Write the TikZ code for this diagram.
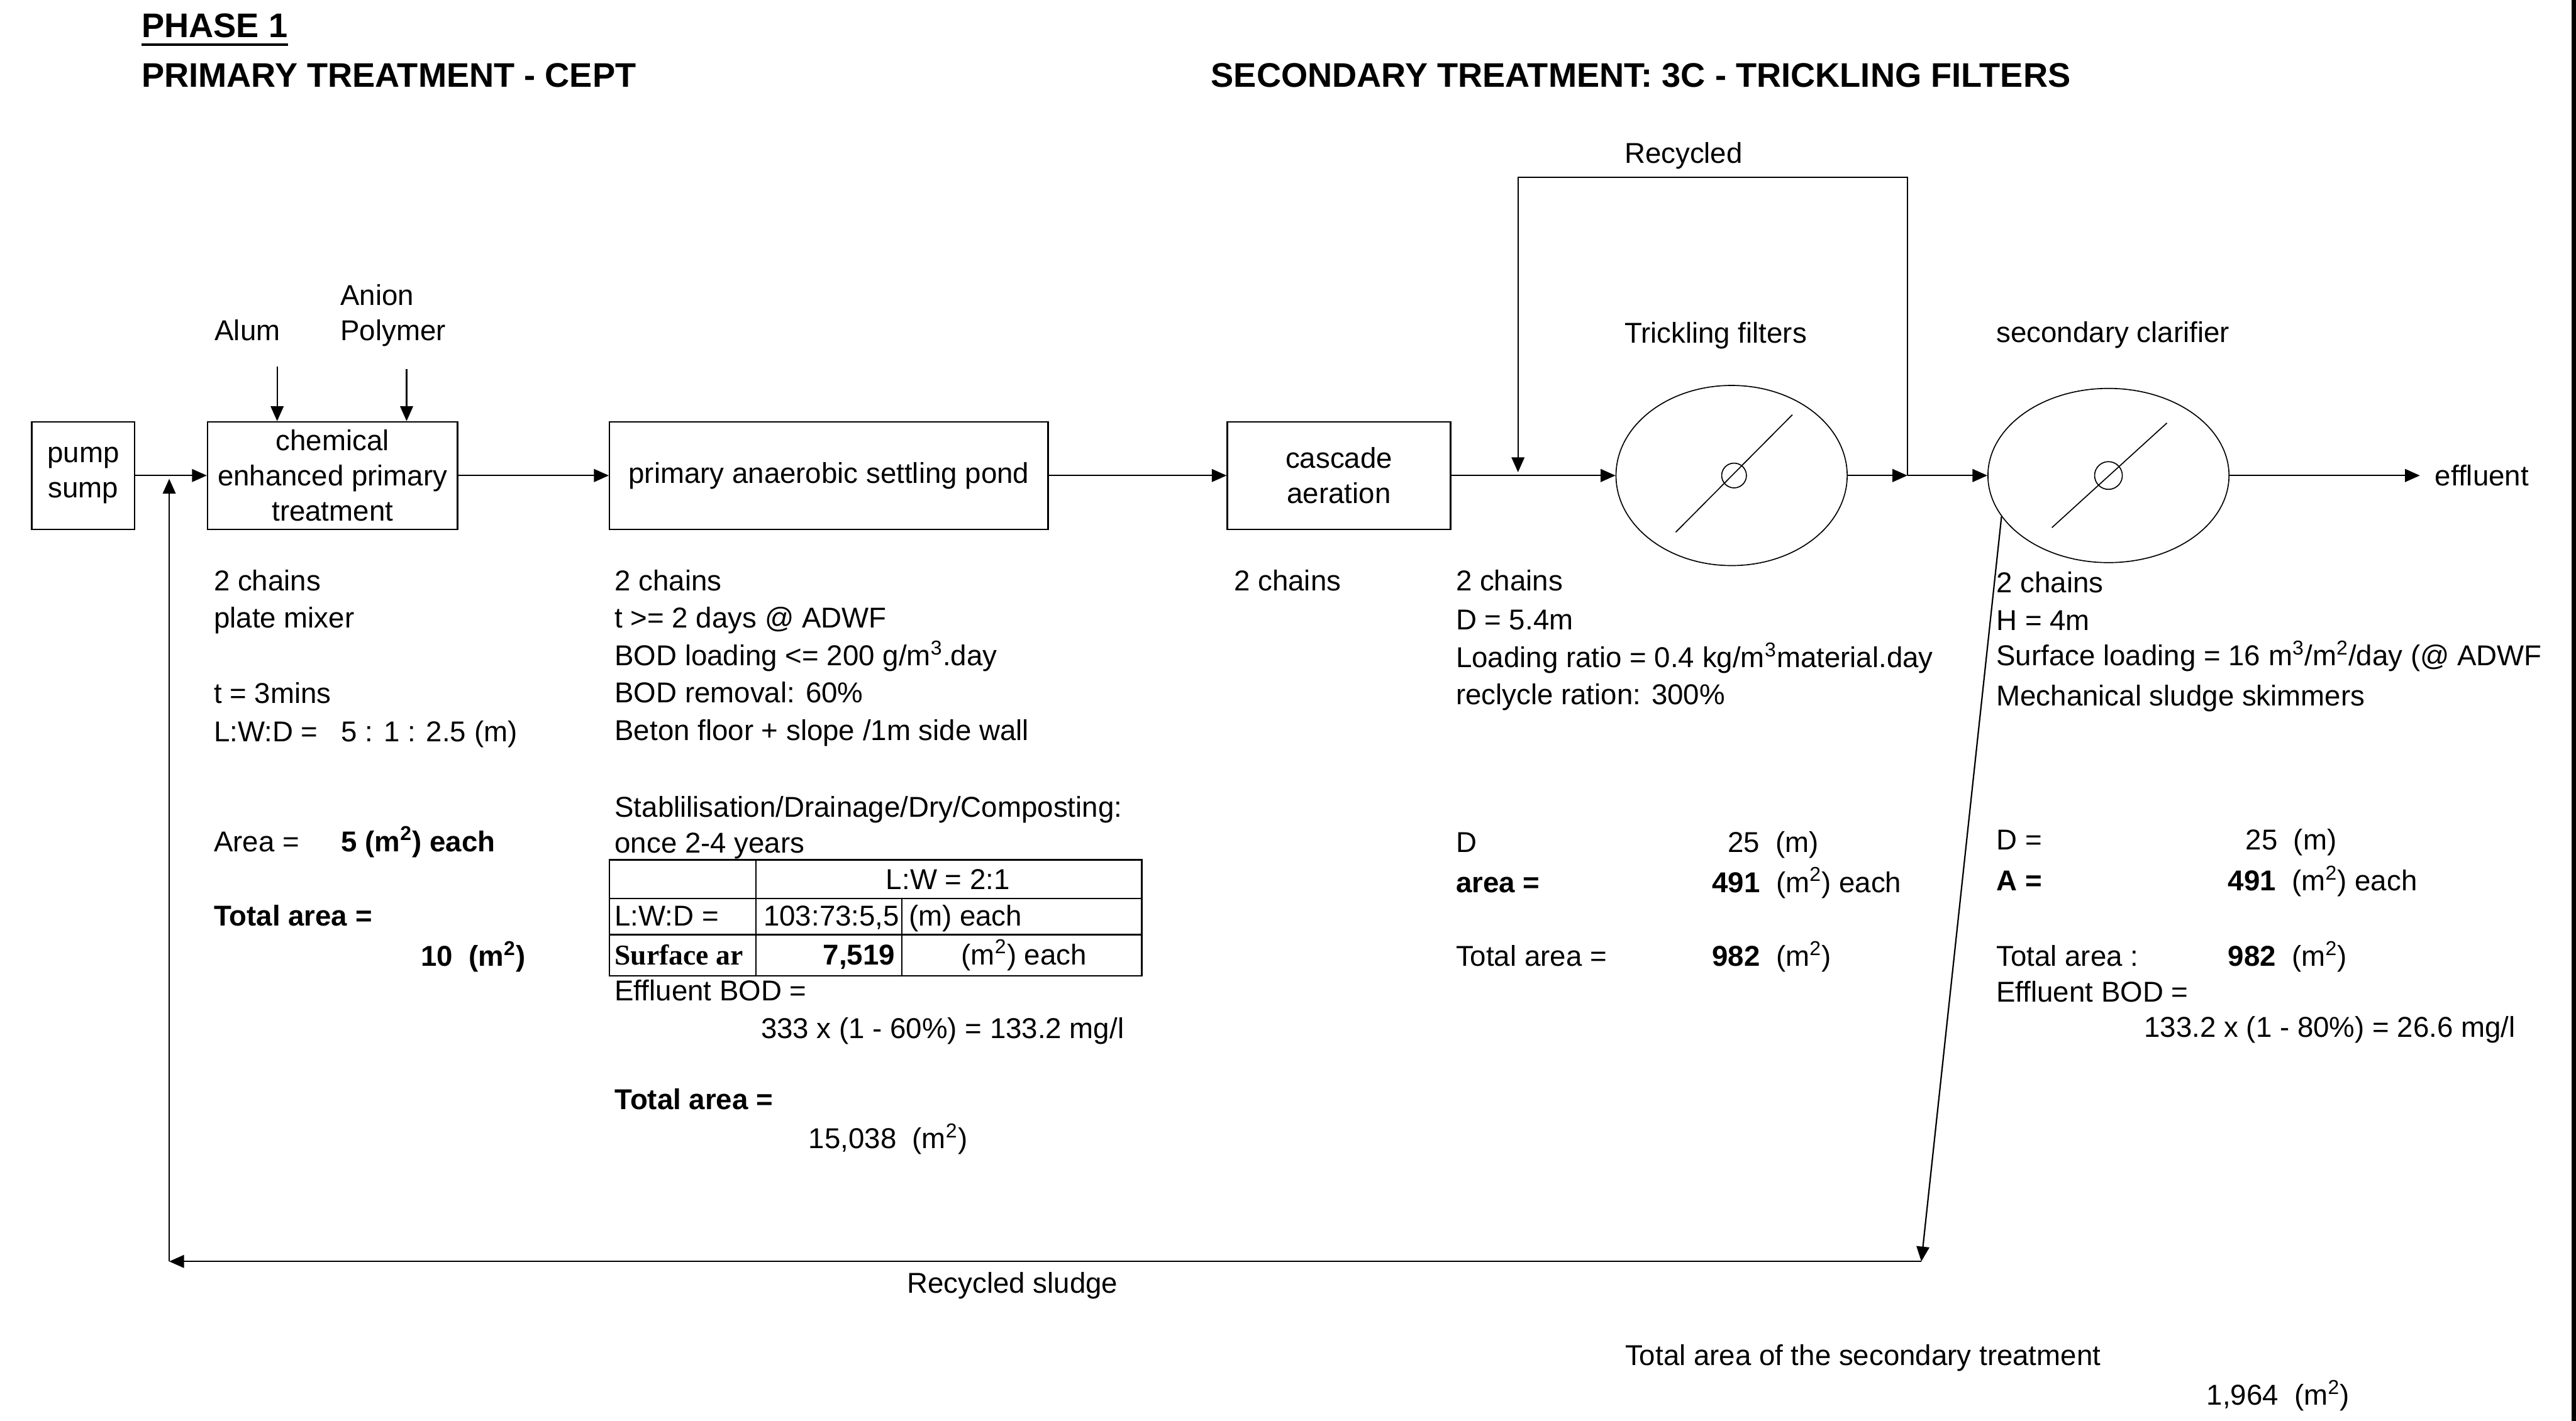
\documentclass[tikz,border=0pt]{standalone}
\usepackage{fontspec}
\setmainfont{Liberation Sans}
\newfontfamily\cellserif{Liberation Serif}
\usetikzlibrary{arrows.meta,shapes.geometric}

\tikzset{
  >={Triangle[length=0.3cm,width=0.26cm]},
  stage/.style={draw,line width=0.8pt,inner sep=0pt,align=center,minimum height=2.17cm,font=\fontsize{16.5}{20.2}\selectfont},
  tank/.style={draw,ellipse,line width=0.6pt,inner sep=0pt},
  note/.style={anchor=west,inner sep=0pt,text height=0.5cm,text depth=0.08cm},
  head/.style={anchor=base west,inner sep=0pt,font=\fontsize{19.6}{24}\selectfont\bfseries},
  flow/.style={->,line width=0.8pt},
}

\begin{document}
\begin{tikzpicture}[x=0.03319cm,y=-0.03319cm,every node/.style={font=\fontsize{16.5}{21.5}\selectfont}]
\useasboundingbox (0,0) rectangle (1568,865);
\fill (1565.3,0) rectangle (1568,865);

% titles
\node[head] (phase) at (86,22.8) {PHASE 1};
\draw[line width=1.4pt] ([yshift=-0.145cm]phase.base west) -- ([yshift=-0.145cm]phase.base east);
\node[head] (ptitle) at (86,53) {PRIMARY TREATMENT - CEPT};
\node[head] (stitle) at (737,53) {SECONDARY TREATMENT: 3C - TRICKLING FILTERS};

% process units
\node[stage,minimum width=2.08cm] (sump) at (50.7,289.5) {pump\\sump};
\node[stage,minimum width=5.05cm] (cept) at (202.4,289.5) {chemical\\enhanced primary\\treatment};
\node[stage,minimum width=8.86cm] (pond) at (504.5,289.5) {primary anaerobic settling pond};
\node[stage,minimum width=4.51cm] (casc) at (815,289.5) {cascade\\aeration};
\node[tank,minimum width=4.67cm,minimum height=3.64cm] (tf) at (1054,289.5) {};
\node[tank,minimum width=4.87cm,minimum height=3.52cm] (clar) at (1283.4,289.5) {};
\draw[line width=0.6pt] ([shift={(1.5,0)}]tf.center) circle[radius=0.25cm];
\draw[line width=0.6pt] ([shift={(-34,34.5)}]tf.center) -- ([shift={(37,-37)}]tf.center);
\draw[line width=0.6pt] (clar.center) circle[radius=0.28cm];
\draw[line width=0.6pt] ([shift={(-34.4,31.7)}]clar.center) -- ([shift={(35.6,-32)}]clar.center);

% dosing
\node[note] (alum) at (130.5,201) {Alum};
\node[note] (anion) at (207,179.7) {Anion};
\node[note] (polymer) at (207,201) {Polymer};
\coordinate (alumin) at (168.7,223);
\coordinate (polyin) at (247.5,224.7);
\draw[flow] (alumin) -- (alumin |- cept.north);
\draw[flow] (polyin) -- (polyin |- cept.north);

% main flow
\draw[flow] (sump) -- (cept);
\draw[flow] (cept) -- (pond);
\draw[flow] (pond) -- (casc);
\draw[flow] (casc) -- (tf);
\coordinate (jn) at (1161,289.5);
\draw[flow] (tf.east) -- (jn);
\draw[flow] (jn) -- (clar.west);
\node[note] (eff) at (1482,289.5) {effluent};
\draw[flow] (clar.east) -- ([xshift=-0.3cm]eff.west);

% recycle over the filters
\coordinate (rtr) at (1161,108);
\coordinate (rtl) at (924,108);
\coordinate (rin) at (924,287.5);
\draw[flow] (jn) -- (rtr) -- (rtl) -- (rin);
\node[note] (recyc) at (988.6,93) {Recycled};

% sludge return
\coordinate (slc) at (1169.5,768);
\coordinate (sl2) at (103,768);
\coordinate (ret) at (103,291.5);
\draw[flow] (clar.201) -- (slc);
\draw[flow] (slc) -- (sl2);
\draw[flow] (sl2) -- (ret);
\node[note] (sludge) at (552,781) {Recycled sludge};

% labels over the tanks
\node[note] (tflab) at (988.6,202.5) {Trickling filters};
\node[note] (clarlab) at (1215,202) {secondary clarifier};

% CEPT notes
\foreach \y/\txt [count=\i] in {353.5/2 chains,376/plate mixer,422/t = 3mins,445/L:W:D =,512/Area =} {
  \node[note] (mix\i) at (130,\y) {\txt};
}
\node[note] (mixdim) at (207.5,445) {5 : 1 : 2.5 (m)};
\node[note] (mixarea) at (207.5,512) {\textbf{5 (m\textsuperscript{2}) each}};
\node[note] (mixtot) at (130,557.5) {\textbf{Total area =}};
\node[note] (mixtotv) at (256,582) {\textbf{10\ \ (m\textsuperscript{2})}};

% pond notes
\foreach \y/\txt [count=\i] in {353.5/2 chains,376/{t >= 2 days @ ADWF},399/{BOD loading <= 200 g/m\textsuperscript{3}.day},421.5/{BOD removal: 60\%},444.5/{Beton floor + slope /1m side wall},491/{Stablilisation/Drainage/Dry/Composting:},513/{once 2-4 years},603/{Effluent BOD =}} {
  \node[note] (pn\i) at (374,\y) {\txt};
}
\draw[line width=0.8pt] (371,523.5) rectangle (695,594);
\draw[line width=0.8pt] (371,547) -- (695,547);
\draw[line width=0.8pt] (371,569) -- (695,569);
\draw[line width=0.8pt] (460,523.5) -- (460,594);
\draw[line width=0.8pt] (549,547) -- (549,594);
\node[note,anchor=center] (lw) at (577,535) {L:W = 2:1};
\node[note] (lwdl) at (374,557.5) {L:W:D =};
\node[note] (lwdv) at (464.6,557.5) {103:73:5,5};
\node[note] (lwdu) at (553,557.5) {(m) each};
\node[note] (sal) at (374,581) {\cellserif\bfseries Surface ar};
\node[note,anchor=east] (sav) at (545,581) {\textbf{7,519}};
\node[note] (sau) at (585,581) {(m\textsuperscript{2}) each};
\node[note] (pondbod) at (463,626) {333 x (1 - 60\%) = 133.2 mg/l};
\node[note] (pondtot) at (374,669) {\textbf{Total area =}};
\node[note] (pondtotv) at (492,693) {15,038\ \ (m\textsuperscript{2})};

% cascade notes
\node[note] (cascn) at (751,353.5) {2 chains};

% trickling filter notes
\foreach \y/\txt [count=\i] in {353.5/2 chains,377/D = 5.4m,400/{Loading ratio = 0.4 kg/m\textsuperscript{3}material.day},422.5/{reclycle ration: 300\%},512.5/D,582/Total area =} {
  \node[note] (tfn\i) at (886,\y) {\txt};
}
\node[note] (tfd) at (1051.5,512.5) {25\ \ (m)};
\node[note] (tfa) at (886,537) {\textbf{area =}};
\node[note] (tfav) at (1042,537) {\textbf{491}\ \ (m\textsuperscript{2}) each};
\node[note] (tftv) at (1042,582) {\textbf{982}\ \ (m\textsuperscript{2})};

% clarifier notes
\foreach \y/\txt [count=\i] in {354.5/2 chains,377.5/H = 4m,399/{Surface loading = 16 m\textsuperscript{3}/m\textsuperscript{2}/day (@ ADWF},423.5/Mechanical sludge skimmers,511/D =,582/Total area :,603.5/Effluent BOD =} {
  \node[note] (cln\i) at (1215,\y) {\txt};
}
\node[note] (cld) at (1366.7,511) {25\ \ (m)};
\node[note] (cla) at (1215,536) {\textbf{A =}};
\node[note] (clav) at (1356,536) {\textbf{491}\ \ (m\textsuperscript{2}) each};
\node[note] (cltv) at (1356,582) {\textbf{982}\ \ (m\textsuperscript{2})};
\node[note] (clbod) at (1305,625) {133.2 x (1 - 80\%) = 26.6 mg/l};

% total of the secondary stage
\node[note] (sectot) at (989,825) {Total area of the secondary treatment};
\node[note] (sectotv) at (1343,849) {1,964\ \ (m\textsuperscript{2})};
\end{tikzpicture}
\end{document}
